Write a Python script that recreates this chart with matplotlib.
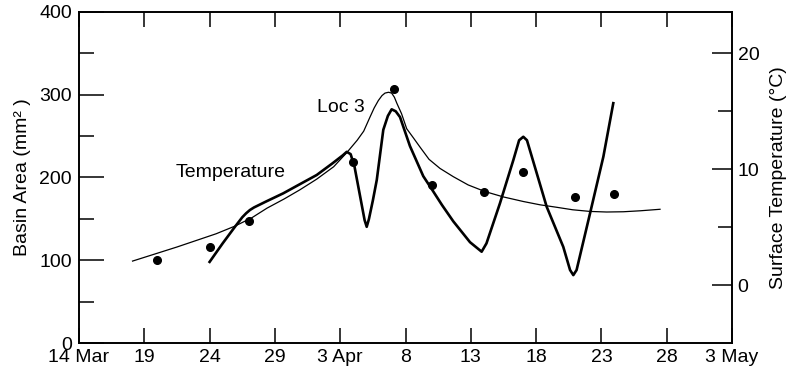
import matplotlib
matplotlib.use("Agg")
import matplotlib.pyplot as plt
from matplotlib.ticker import MultipleLocator, FixedLocator

plt.rcParams['font.family'] = ['Liberation Sans', 'DejaVu Sans']

# x positions are days after 14 March
tick_days = [0, 5, 10, 15, 20, 25, 30, 35, 40, 45, 50]
tick_labels = ['14 Mar', '19', '24', '29', '3 Apr', '8', '13', '18', '23', '28', '3 May']

# observed basin area (dots)
obs_days = [6, 10, 13, 21, 24.1, 27, 31, 34, 38, 41]
obs_area = [100, 115.6, 147, 218.7, 306.6, 191, 182.8, 206.6, 176, 179.7]

# Loc 3 fitted basin area (thin line)
loc3_days = [4.1, 5.7, 7.5, 9.0, 10.5, 11.9, 13.2, 14.4, 15.7, 16.9,
             18.2, 19.5, 20.5, 21.3, 21.8, 22.28, 22.6, 22.92, 23.2, 23.43,
             23.7, 23.94, 24.15, 24.33, 24.7, 25.09, 25.6, 26.1, 26.8, 27.64,
             28.66, 29.8, 31.09, 32.5, 34.02, 35.3, 36.58, 37.8, 39.13, 40.4,
             41.68, 43.0, 44.49]
loc3_area = [99, 107, 116, 124, 132, 141, 151, 163, 174, 185,
             198, 213, 230, 245, 256, 273, 284, 293, 299, 302,
             303, 302, 297, 290, 277, 259, 248, 237, 222, 211,
             201, 191, 183, 176.5, 171, 167, 164, 161, 159, 158.3,
             158.6, 159.8, 161.6]

# surface temperature (thick line)
temp_days = [10.0, 11.0, 11.94, 12.5, 12.8, 13.09, 13.4, 14.3, 15.64, 16.9,
             18.2, 19.4, 20.2, 20.5, 20.8, 21.1, 21.87, 22.03, 22.2, 22.5,
             22.8, 23.3, 23.65, 23.94, 24.25, 24.58, 25.34, 26.36, 27.0, 27.8,
             28.66, 29.94, 30.83, 31.2, 32.23, 33.26, 33.7, 34.02, 34.3, 35.81,
             37.08, 37.6, 37.85, 38.1, 39.13, 40.15, 40.91]
temp_vals = [2.0, 3.6, 5.03, 5.85, 6.2, 6.48, 6.7, 7.2, 7.92, 8.7,
             9.5, 10.5, 11.2, 11.5, 11.3, 10.2, 5.6, 5.03, 5.7, 7.3,
             9.07, 13.4, 14.6, 15.17, 15.0, 14.5, 12.0, 9.4, 8.3, 6.9,
             5.5, 3.7, 2.88, 3.6, 7.05, 10.8, 12.5, 12.8, 12.5, 6.76,
             3.3, 1.3, 0.86, 1.3, 6.19, 11.08, 15.7]

fig = plt.figure(figsize=(7.87, 3.75), dpi=100)
ax = fig.add_axes([79/787, 1-343/375, (732-79)/787, (343-12)/375])
ax2 = ax.twinx()

ax.plot(loc3_days, loc3_area, color='black', lw=0.9, solid_joinstyle='round')
ax.plot(obs_days, obs_area, 'o', color='black', ms=5.5)
ax2.plot(temp_days, temp_vals, color='black', lw=1.9, solid_joinstyle='round')

ax.set_xlim(0, 50)
ax.set_ylim(0, 400)
ax2.set_ylim(-5, 23.57)

ax.xaxis.set_major_locator(FixedLocator(tick_days))
ax.set_xticklabels(tick_labels)
ax.yaxis.set_major_locator(MultipleLocator(100))
ax.yaxis.set_minor_locator(MultipleLocator(50))
ax2.yaxis.set_major_locator(FixedLocator([0, 10, 20]))
ax2.yaxis.set_minor_locator(FixedLocator([5, 15]))

for a in (ax, ax2):
    for s in a.spines.values():
        s.set_linewidth(1.2)

ax.tick_params(axis='x', which='major', direction='in', length=11, width=1.1,
               top=True, labelsize=14, pad=4)
ax.tick_params(axis='y', which='major', direction='in', length=18, width=1.1,
               labelsize=14, pad=5)
ax.tick_params(axis='y', which='minor', direction='in', length=10.5, width=1.1)
ax2.tick_params(axis='y', which='major', direction='in', length=14.5, width=1.1,
                labelsize=14, pad=4)
ax2.tick_params(axis='y', which='minor', direction='in', length=10, width=1.1)

ax.set_ylabel('Basin Area (mm² )', fontsize=14, labelpad=6)
ax2.set_ylabel('Surface Temperature (°C)', fontsize=14, labelpad=8)

ax.text(20.06, 285, 'Loc 3', fontsize=14, ha='center', va='center')
ax.text(11.6, 206, 'Temperature', fontsize=14, ha='center', va='center')

fig.savefig('out.png', dpi=100)
